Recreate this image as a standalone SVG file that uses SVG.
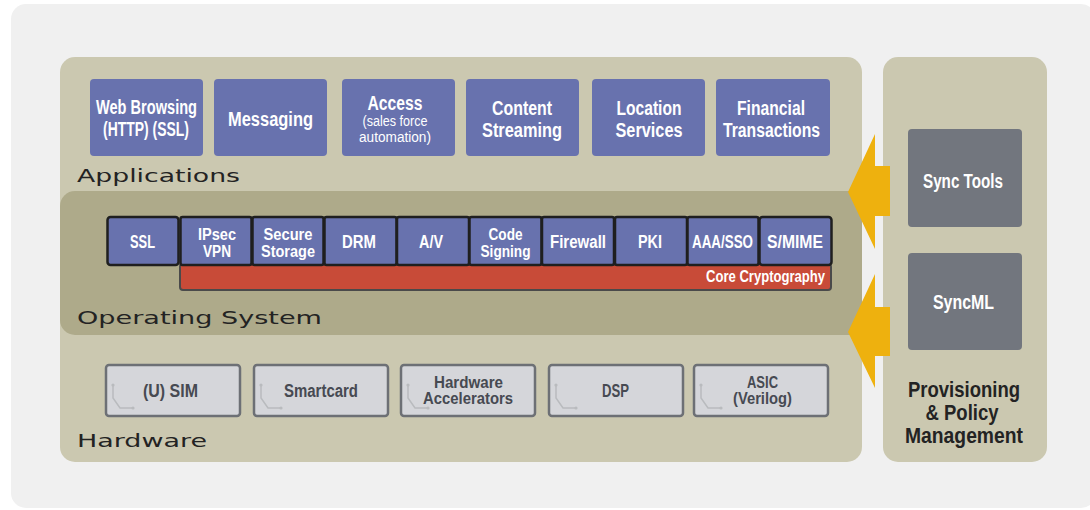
<svg xmlns="http://www.w3.org/2000/svg" width="1090" height="510" viewBox="0 0 1090 510">
<style>
.app{font-family:"Liberation Sans","Arial",sans-serif;font-weight:bold;font-size:19.5px;fill:#fff;text-anchor:middle}
.appsm{font-family:"Liberation Sans","Arial",sans-serif;font-size:14px;fill:#fff;text-anchor:middle}
.os{font-family:"Liberation Sans","Arial",sans-serif;font-weight:bold;font-size:17.5px;fill:#fff;text-anchor:middle}
.os2{font-family:"Liberation Sans","Arial",sans-serif;font-weight:bold;font-size:16px;fill:#fff;text-anchor:middle}
.hw{font-family:"Liberation Sans","Arial",sans-serif;font-weight:bold;font-size:18px;fill:#474a52;text-anchor:middle}
.hw2{font-family:"Liberation Sans","Arial",sans-serif;font-weight:bold;font-size:16.5px;fill:#474a52;text-anchor:middle}
.sync{font-family:"Liberation Sans","Arial",sans-serif;font-weight:bold;font-size:20px;fill:#fff;text-anchor:middle}
.prov{font-family:"Liberation Sans","Arial",sans-serif;font-weight:bold;font-size:21.5px;fill:#232323;text-anchor:middle}
.layer{font-family:"DejaVu Sans","Liberation Sans",sans-serif;font-size:18px;fill:#232323}
.abox{fill:#6872ae}
.obox{fill:#6872ae;stroke:#1f1f1f;stroke-width:2.5}
.hbox{fill:#d5d6da;stroke:#6d7075;stroke-width:2.5}
.chip{fill:none;stroke:#b9bbbe;stroke-width:1.5}
.dot{fill:#b9bbbe}
.sbox{fill:#72767e}
.arrow{fill:#eeb10e}
</style>
<defs>
<g id="chip">
<path class="chip" d="M7 20 V33 L14 43 H27"/>
<circle class="dot" cx="7" cy="20" r="1.6"/>
<circle class="dot" cx="27" cy="43" r="1.6"/>
</g>
</defs>
<rect x="11" y="4" width="1085" height="504" rx="15" fill="#f0f0f0"/>

<g id="layers">
<rect id="main-panel" x="60" y="57" width="802" height="405" rx="15" fill="#cbc8b0"/>
<path id="os-band" d="M75 191 H862 V335 H75 A15 15 0 0 1 60 320 V206 A15 15 0 0 1 75 191 Z" fill="#aeaa8a"/>
<text class="layer" x="77" y="182" textLength="163" lengthAdjust="spacingAndGlyphs">Applications</text>
<text class="layer" x="77" y="324" textLength="245" lengthAdjust="spacingAndGlyphs">Operating System</text>
<text class="layer" x="77" y="447" textLength="130" lengthAdjust="spacingAndGlyphs">Hardware</text>
</g>

<g id="provisioning">
<rect x="883" y="57" width="164" height="405" rx="15" fill="#cbc8b0"/>
<text class="prov" x="964" y="397" textLength="112" lengthAdjust="spacingAndGlyphs">Provisioning</text>
<text class="prov" x="962" y="420" textLength="73" lengthAdjust="spacingAndGlyphs">&amp; Policy</text>
<text class="prov" x="964" y="443" textLength="118" lengthAdjust="spacingAndGlyphs">Management</text>
</g>

<g id="app-web"><rect class="abox" x="90" y="79" width="113" height="77" rx="4"/><text class="app" x="146.5" y="114" textLength="101" lengthAdjust="spacingAndGlyphs">Web Browsing</text><text class="app" x="146" y="136" textLength="86" lengthAdjust="spacingAndGlyphs">(HTTP) (SSL)</text></g>
<g id="app-messaging"><rect class="abox" x="214" y="79" width="113" height="77" rx="4"/><text class="app" x="270.5" y="126" textLength="85" lengthAdjust="spacingAndGlyphs">Messaging</text></g>
<g id="app-access"><rect class="abox" x="342" y="79" width="113" height="77" rx="4"/><text class="app" x="395" y="110" textLength="55" lengthAdjust="spacingAndGlyphs">Access</text><text class="appsm" x="395" y="126" textLength="65" lengthAdjust="spacingAndGlyphs">(sales force</text><text class="appsm" x="395" y="142" textLength="72" lengthAdjust="spacingAndGlyphs">automation)</text></g>
<g id="app-content"><rect class="abox" x="466" y="79" width="113" height="77" rx="4"/><text class="app" x="522" y="115" textLength="60" lengthAdjust="spacingAndGlyphs">Content</text><text class="app" x="522" y="137" textLength="80" lengthAdjust="spacingAndGlyphs">Streaming</text></g>
<g id="app-location"><rect class="abox" x="592" y="79" width="113" height="77" rx="4"/><text class="app" x="649" y="115" textLength="65" lengthAdjust="spacingAndGlyphs">Location</text><text class="app" x="649" y="137" textLength="67" lengthAdjust="spacingAndGlyphs">Services</text></g>
<g id="app-financial"><rect class="abox" x="716" y="79" width="114" height="77" rx="4"/><text class="app" x="771" y="115" textLength="68" lengthAdjust="spacingAndGlyphs">Financial</text><text class="app" x="771.5" y="137" textLength="97" lengthAdjust="spacingAndGlyphs">Transactions</text></g>

<g id="core-crypto"><rect x="180" y="264" width="651" height="26" rx="3" fill="#c84b38" stroke="#4a4a4a" stroke-width="2"/><text class="os" x="825" y="282" style="text-anchor:end;font-size:16px" textLength="119" lengthAdjust="spacingAndGlyphs">Core Cryptography</text></g>

<g id="os-ssl"><rect class="obox" x="107.5" y="217" width="71" height="48" rx="3"/><text class="os" x="142.5" y="248" textLength="25" lengthAdjust="spacingAndGlyphs">SSL</text></g>
<g id="os-ipsec"><rect class="obox" x="180.5" y="217" width="71" height="48" rx="2"/><text class="os2" x="217" y="240" textLength="38" lengthAdjust="spacingAndGlyphs">IPsec</text><text class="os2" x="217" y="257" textLength="28" lengthAdjust="spacingAndGlyphs">VPN</text></g>
<g id="os-storage"><rect class="obox" x="252.5" y="217" width="71" height="48" rx="2"/><text class="os2" x="288" y="240" textLength="49" lengthAdjust="spacingAndGlyphs">Secure</text><text class="os2" x="288" y="256.5" textLength="54" lengthAdjust="spacingAndGlyphs">Storage</text></g>
<g id="os-drm"><rect class="obox" x="324.5" y="217" width="72" height="48" rx="2"/><text class="os" x="359" y="248" textLength="34" lengthAdjust="spacingAndGlyphs">DRM</text></g>
<g id="os-av"><rect class="obox" x="397" y="217" width="72" height="48" rx="2"/><text class="os" x="431" y="248" textLength="24" lengthAdjust="spacingAndGlyphs">A/V</text></g>
<g id="os-code"><rect class="obox" x="469.5" y="217" width="72" height="48" rx="2"/><text class="os2" x="505.5" y="240" textLength="34" lengthAdjust="spacingAndGlyphs">Code</text><text class="os2" x="505.5" y="256.5" textLength="50" lengthAdjust="spacingAndGlyphs">Signing</text></g>
<g id="os-firewall"><rect class="obox" x="542" y="217" width="72" height="48" rx="2"/><text class="os" x="578" y="248" textLength="56" lengthAdjust="spacingAndGlyphs">Firewall</text></g>
<g id="os-pki"><rect class="obox" x="615" y="217" width="72" height="48" rx="2"/><text class="os" x="650" y="248" textLength="24" lengthAdjust="spacingAndGlyphs">PKI</text></g>
<g id="os-aaa"><rect class="obox" x="687.5" y="217" width="71" height="48" rx="2"/><text class="os" x="722.5" y="248" textLength="61" lengthAdjust="spacingAndGlyphs">AAA/SSO</text></g>
<g id="os-smime"><rect class="obox" x="759.5" y="217" width="72" height="48" rx="3"/><text class="os" x="795" y="248" textLength="56" lengthAdjust="spacingAndGlyphs">S/MIME</text></g>

<g id="hw-sim"><rect class="hbox" x="106" y="365" width="134" height="51" rx="3"/><use href="#chip" x="106" y="365"/><text class="hw" x="170.5" y="397" textLength="55" lengthAdjust="spacingAndGlyphs">(U) SIM</text></g>
<g id="hw-smartcard"><rect class="hbox" x="254" y="365" width="134" height="51" rx="3"/><use href="#chip" x="254" y="365"/><text class="hw" x="321" y="397" textLength="74" lengthAdjust="spacingAndGlyphs">Smartcard</text></g>
<g id="hw-accel"><rect class="hbox" x="401" y="365" width="134" height="51" rx="3"/><use href="#chip" x="401" y="365"/><text class="hw2" x="468.5" y="388" textLength="69" lengthAdjust="spacingAndGlyphs">Hardware</text><text class="hw2" x="468" y="404" textLength="90" lengthAdjust="spacingAndGlyphs">Accelerators</text></g>
<g id="hw-dsp"><rect class="hbox" x="549" y="365" width="134" height="51" rx="3"/><use href="#chip" x="549" y="365"/><text class="hw" x="615.5" y="397" textLength="27" lengthAdjust="spacingAndGlyphs">DSP</text></g>
<g id="hw-asic"><rect class="hbox" x="694" y="365" width="134" height="51" rx="3"/><use href="#chip" x="694" y="365"/><text class="hw2" x="762.5" y="388" textLength="31" lengthAdjust="spacingAndGlyphs">ASIC</text><text class="hw2" x="762.5" y="404" textLength="59" lengthAdjust="spacingAndGlyphs">(Verilog)</text></g>

<g id="sync-tools"><rect class="sbox" x="908" y="129" width="114" height="98" rx="4"/><text class="sync" x="963" y="188" textLength="80" lengthAdjust="spacingAndGlyphs">Sync Tools</text></g>
<g id="syncml"><rect class="sbox" x="908" y="253" width="114" height="97" rx="4"/><text class="sync" x="963.5" y="309" textLength="61" lengthAdjust="spacingAndGlyphs">SyncML</text></g>

<g id="connectors">
<polygon class="arrow" points="848,192 875,134 875,166 890,166 890,216 875,216 875,249"/>
<polygon class="arrow" points="848,332 875,274 875,307 890,307 890,356 875,356 875,388"/>
</g>
</svg>
